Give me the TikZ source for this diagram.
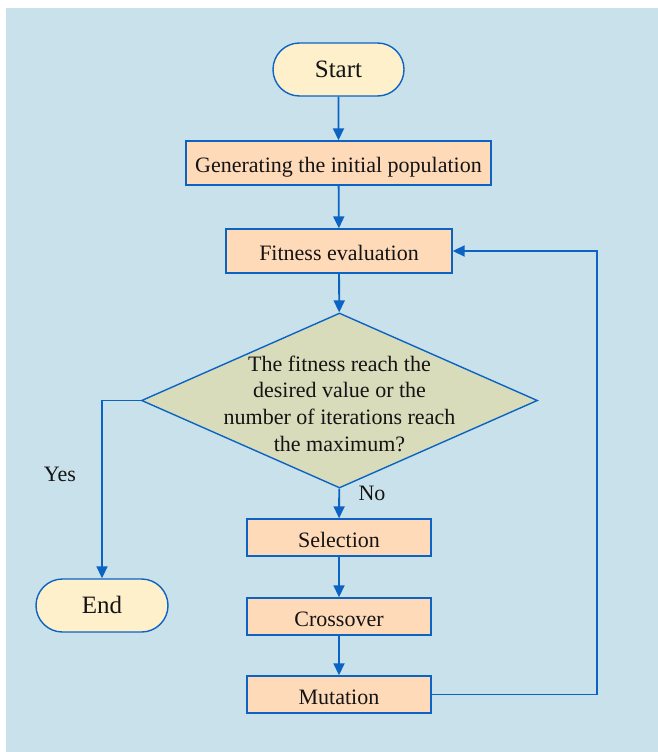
\documentclass[tikz,border=0pt]{standalone}
\usepackage{fontspec}
\setmainfont{Liberation Serif}
\usetikzlibrary{shapes.geometric,shapes.misc,arrows.meta}

\definecolor{bgblue}{HTML}{C9E1EA}
\definecolor{peach}{HTML}{FFDAB9}
\definecolor{cream}{HTML}{FFF0CC}
\definecolor{olive}{HTML}{D8DCBB}
\definecolor{lineblue}{HTML}{0B63C4}
\definecolor{ink}{HTML}{141414}

\tikzset{
  procbox/.style={draw=lineblue, line width=1.4pt, fill=peach, rectangle,
    inner sep=0pt, text=ink, text height=21pt, text depth=2pt,
    font=\fontsize{22}{26}\selectfont},
  terminal/.style={draw=lineblue, line width=1.4pt, fill=cream,
    rounded rectangle, inner sep=0pt, text=ink, text height=21pt, text depth=5pt,
    font=\fontsize{25}{30}\selectfont},
  decision/.style={draw=lineblue, line width=1.4pt, fill=olive, diamond,
    inner sep=0pt, minimum width=396pt, minimum height=175pt},
  flowlabel/.style={text=ink, font=\fontsize{22}{26.7}\selectfont},
  flow/.style={draw=lineblue, line width=1.8pt,
    -{Triangle[length=12pt,width=11pt]}},
}

\begin{document}
\begin{tikzpicture}[x=1pt, y=-1pt]
  % page and panel
  \useasboundingbox (0,0) rectangle (658,752);
  \fill[bgblue] (6,8) rectangle (658,752);

  % flow nodes
  \node[terminal, minimum width=131pt, minimum height=53pt] (start) at (338.5,69.5) {Start};
  \node[procbox, minimum width=305pt, minimum height=44pt] (init) at (338.5,163) {Generating the initial population};
  \node[procbox, minimum width=226pt, minimum height=44pt] (fit) at (339,251) {Fitness evaluation};
  \node[decision] (check) at (339.5,400.5) {};
  \node[flowlabel, align=center] (checktext) at ([yshift=-3pt]check.center)
    {The fitness reach the\\desired value or the\\number of iterations reach\\the maximum?};
  \node[procbox, minimum width=184pt, minimum height=37pt] (sel) at (339,537.5) {Selection};
  \node[procbox, minimum width=184pt, minimum height=37pt] (cross) at (339,616.5) {Crossover};
  \node[procbox, minimum width=184pt, minimum height=37pt] (mut) at (339,694.5) {Mutation};
  \node[terminal, minimum width=132pt, minimum height=53pt] (end) at (102,605.5) {End};

  % branch labels
  \node[flowlabel] (yes) at (60,474) {Yes};
  \node[flowlabel] (no) at (372,493) {No};

  % loop-back corner
  \coordinate (loopx) at (597,0);

  % connectors
  \draw[flow] (start) -- (init);
  \draw[flow] (init) -- (fit);
  \draw[flow] (fit) -- (check);
  \draw[flow] (check.west) -| (end.north);
  \draw[flow] (check) -- (sel);
  \draw[flow] (sel) -- (cross);
  \draw[flow] (cross) -- (mut);
  \draw[flow] (mut.east) -- (mut.east -| loopx) -- (fit.east -| loopx) -- (fit.east);
\end{tikzpicture}
\end{document}
